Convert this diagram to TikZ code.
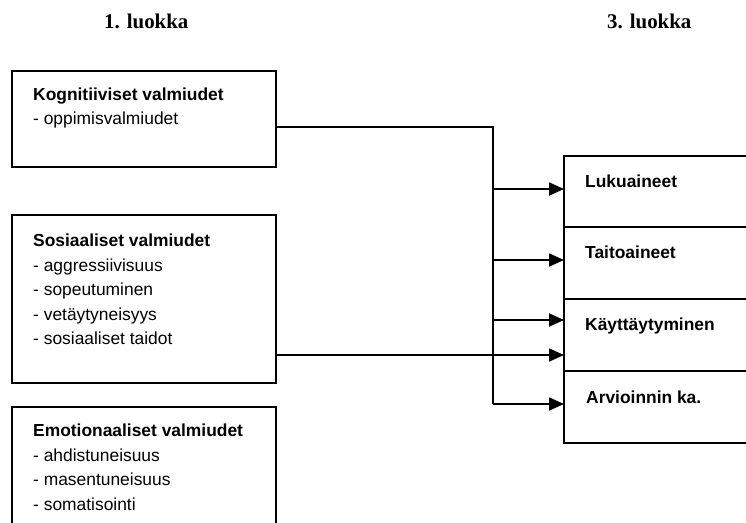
\documentclass[tikz,border=0pt]{standalone}
\usepackage{fontspec}
\setmainfont{Liberation Sans}
\newfontfamily\headfont{Liberation Serif}
\usetikzlibrary{arrows.meta}
\begin{document}
\begin{tikzpicture}[x=1pt,y=-1pt,
  box/.style={draw, line width=1.8pt, rectangle, outer sep=0pt, inner sep=0pt, anchor=north west},
  % multi-line text is placed by the baseline of its last line
  boxtext/.style={anchor=base west, inner sep=0pt, align=left,
    font=\fontsize{17.4}{24.5}\selectfont},
  head/.style={anchor=base west, inner sep=0pt, font=\headfont\bfseries\fontsize{20.9}{24}\selectfont},
  conn/.style={line width=1.8pt},
  arr/.style={line width=1.8pt, -{Triangle[length=15pt,width=13pt]}}
]
\useasboundingbox (0,0) rectangle (746,522);
\clip (0,0) rectangle (746,522);

% column headings
\node[head] (h1) at (104,28) {1. luokka};
\node[head] (h3) at (607,28) {3. luokka};

% grade 1 predictors
\node[box, minimum width=264pt, minimum height=96pt] (kog) at (12,71) {};
\node[box, minimum width=264pt, minimum height=168pt] (sos) at (12,215) {};
\node[box, minimum width=264pt, minimum height=140pt] (emo) at (12,407) {};

\node[boxtext] (kogtxt) at (33,124.5) {\textbf{Kognitiiviset valmiudet}\\- oppimisvalmiudet};
\node[boxtext] (sostxt) at (33,344.5) {\textbf{Sosiaaliset valmiudet}\\- aggressiivisuus\\- sopeutuminen\\- vetäytyneisyys\\- sosiaaliset taidot};
\node[boxtext] (emotxt) at (33,510) {\textbf{Emotionaaliset valmiudet}\\- ahdistuneisuus\\- masentuneisuus\\- somatisointi};

% grade 3 outcomes
\node[box, minimum width=200pt, minimum height=71pt] (luku) at (564,156) {};
\node[box, minimum width=200pt, minimum height=72pt] (taito) at (564,227) {};
\node[box, minimum width=200pt, minimum height=72pt] (kay) at (564,299) {};
\node[box, minimum width=200pt, minimum height=72pt] (arv) at (564,371) {};

\node[boxtext] (lukutxt) at (585,187) {\textbf{Lukuaineet}};
\node[boxtext] (taitotxt) at (585,258) {\textbf{Taitoaineet}};
\node[boxtext] (kaytxt) at (585,330.5) {\textbf{Käyttäytyminen}};
\node[boxtext] (arvtxt) at (586,403) {\textbf{Arvioinnin ka.}};

% distribution bus from the cognitive box
\coordinate (bus0) at (493,127);
\coordinate (bus1) at (493,189);
\coordinate (bus2) at (493,260);
\coordinate (bus3) at (493,320);
\coordinate (bus4) at (493,404);
\coordinate (soc) at (493,355);

\draw[conn] (kog.east |- bus0) -- (bus0) -- (bus4);
\draw[arr] (bus1) -- (luku.west |- bus1);
\draw[arr] (bus2) -- (taito.west |- bus2);
\draw[arr] (bus3) -- (kay.west |- bus3);
\draw[arr] (bus4) -- (arv.west |- bus4);

% social box to behaviour
\draw[arr] (sos.east |- soc) -- (kay.west |- soc);
\end{tikzpicture}
\end{document}
